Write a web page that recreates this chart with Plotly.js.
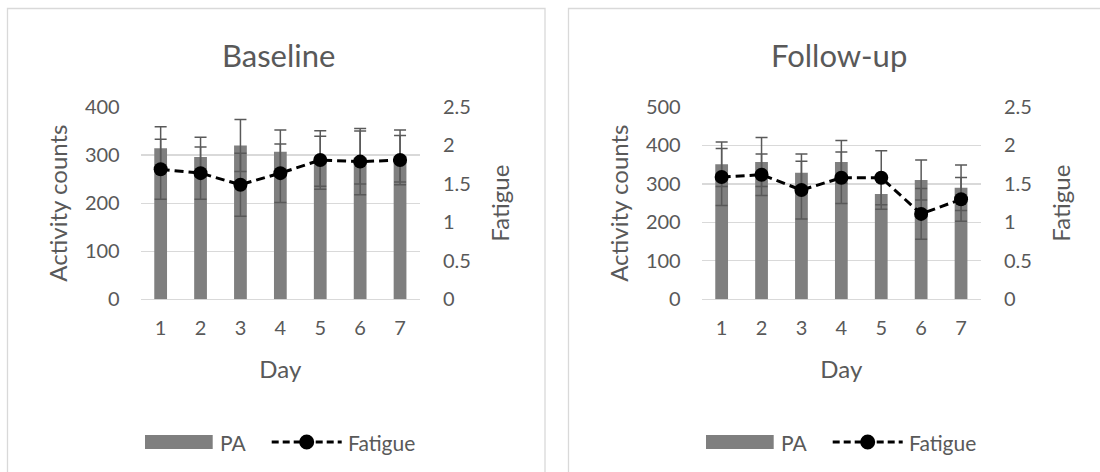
<!DOCTYPE html>
<html>
<head>
<meta charset="utf-8">
<script src="https://cdn.plot.ly/plotly-3.0.1.min.js"></script>
<style>
html,body{margin:0;padding:0;background:#fff;overflow:hidden;}
#chart{width:1100px;height:472px;}
</style>
</head>
<body>
<div id="chart"></div>
<script>
// ---- data ----
const days = ['1', '2', '3', '4', '5', '6', '7'];

const basePA      = [314, 296, 320, 307, 287, 295, 298];
const basePAErr   = [45, 41, 54, 45, 52, 55, 54];
const baseFat     = [1.69, 1.64, 1.49, 1.64, 1.81, 1.79, 1.81];
const baseFatErr  = [0.39, 0.34, 0.41, 0.38, 0.38, 0.43, 0.32];

const followPA     = [351, 357, 329, 357, 274, 310, 290];
const followPAErr  = [58, 64, 49, 56, 40, 52, 59];
const followFat    = [1.59, 1.62, 1.42, 1.58, 1.58, 1.11, 1.30];
const followFatErr = [0.37, 0.27, 0.375, 0.335, 0.35, 0.33, 0.285];

const panelTitles = ['Baseline', 'Follow-up'];
const seriesNames = ['PA', 'Fatigue'];
const xTitle = 'Day';
const yTitleLeft = 'Activity counts';
const yTitleRight = 'Fatigue';

// ---- style ----
const W = 1100, H = 472;
const px = x => x / W;
const py = y => 1 - y / H;
const OFF = 561;
const textColor = '#595959';
const gridColor = '#d9d9d9';
const barColor = '#7f7f7f';
const errColor = '#595959';

function barTrace(y, err, xa, ya) {
  return {
    type: 'bar', x: days, y: y, xaxis: xa, yaxis: ya, name: seriesNames[0],
    width: 0.32, marker: {color: barColor},
    error_y: {type: 'data', array: err, visible: true, color: errColor, thickness: 1.5, width: 6},
    showlegend: false, hoverinfo: 'x+y'
  };
}
function lineTrace(y, err, xa, ya) {
  return {
    type: 'scatter', mode: 'lines+markers', x: days, y: y, xaxis: xa, yaxis: ya, name: seriesNames[1],
    line: {color: '#000', width: 3, dash: '9px,5px'},
    marker: {color: '#000', size: 14},
    error_y: {type: 'data', array: err, visible: true, color: errColor, thickness: 1.5, width: 6},
    showlegend: false
  };
}

const data = [
  barTrace(basePA, basePAErr, 'x', 'y'),
  lineTrace(baseFat, baseFatErr, 'x', 'y2'),
  barTrace(followPA, followPAErr, 'x2', 'y3'),
  lineTrace(followFat, followFatErr, 'x2', 'y4')
];

const yDom = [py(299.3), py(107)];
function xAxis(x0, x1, anchor) {
  return {
    domain: [px(x0), px(x1)], anchor: anchor, type: 'category', range: [-0.5, 6.5],
    showgrid: false, zeroline: false, showline: false, ticks: '',
    tickfont: {size: 20, color: textColor}, ticklabelstandoff: 15,
    title: {text: xTitle, font: {size: 24, color: textColor}, standoff: 22},
    fixedrange: true
  };
}
function yAxisL(max, anchor) {
  return {
    domain: yDom, anchor: anchor, range: [0, max], dtick: 100,
    showgrid: true, gridcolor: gridColor, gridwidth: 1.3,
    zeroline: true, zerolinecolor: gridColor, zerolinewidth: 1.3, showline: false, ticks: '',
    tickfont: {size: 20, color: textColor}, ticklabelstandoff: 20,
    title: {text: yTitleLeft, font: {size: 24, color: textColor}, standoff: 10},
    fixedrange: true
  };
}
function yAxisR(overlay, anchor) {
  return {
    overlaying: overlay, side: 'right', anchor: anchor, range: [0, 2.5], dtick: 0.5,
    showgrid: false, zeroline: false, showline: false, ticks: '',
    tickfont: {size: 20, color: textColor}, ticklabelstandoff: 22,
    title: {text: yTitleRight, font: {size: 24, color: textColor}, standoff: 22},
    fixedrange: true
  };
}

const shapes = [];
const annotations = [];
[0, 1].forEach(i => {
  const o = i * OFF;
  // panel border
  shapes.push({type: 'rect', xref: 'paper', yref: 'paper',
    x0: px(7.5 + o), x1: px(545 + o), y0: py(490), y1: py(8.5),
    line: {color: gridColor, width: 1.3}, fillcolor: 'rgba(0,0,0,0)', layer: 'below'});
  // legend: PA swatch
  shapes.push({type: 'rect', xref: 'paper', yref: 'paper',
    x0: px(145 + o), x1: px(212.7 + o), y0: py(449), y1: py(435),
    line: {width: 0}, fillcolor: barColor});
  // legend: fatigue line + marker
  shapes.push({type: 'line', xref: 'paper', yref: 'paper',
    x0: px(271.7 + o), x1: px(341.7 + o), y0: py(442), y1: py(442),
    line: {color: '#000', width: 3, dash: '7px,4px'}});
  shapes.push({type: 'circle', xref: 'paper', yref: 'paper',
    x0: px(299.2 + o), x1: px(314.2 + o), y0: py(449.5), y1: py(434.5),
    line: {width: 0}, fillcolor: '#000'});
  annotations.push({text: seriesNames[0], xref: 'paper', yref: 'paper', x: px(218 + o), y: py(442),
    xanchor: 'left', yanchor: 'middle', showarrow: false, font: {size: 21, color: textColor}});
  annotations.push({text: seriesNames[1], xref: 'paper', yref: 'paper', x: px(346 + o), y: py(442),
    xanchor: 'left', yanchor: 'middle', showarrow: false, font: {size: 21, color: textColor}});
  annotations.push({text: panelTitles[i], xref: 'paper', yref: 'paper', x: px(278 + o), y: py(55),
    xanchor: 'center', yanchor: 'middle', showarrow: false, font: {size: 31, color: textColor}});
});

const layout = {
  width: W, height: H,
  margin: {l: 0, r: 0, t: 0, b: 0},
  paper_bgcolor: '#fff', plot_bgcolor: 'rgba(0,0,0,0)',
  font: {family: 'Lato, "Open Sans", sans-serif', color: textColor},
  showlegend: false,
  xaxis: xAxis(140.7, 420, 'y'),
  yaxis: yAxisL(400, 'x'),
  yaxis2: yAxisR('y', 'x'),
  xaxis2: xAxis(140.7 + OFF, 420 + OFF, 'y3'),
  yaxis3: yAxisL(500, 'x2'),
  yaxis4: yAxisR('y3', 'x2'),
  shapes: shapes,
  annotations: annotations
};

Plotly.newPlot('chart', data, layout, {displayModeBar: false, staticPlot: true});
</script>
</body>
</html>
